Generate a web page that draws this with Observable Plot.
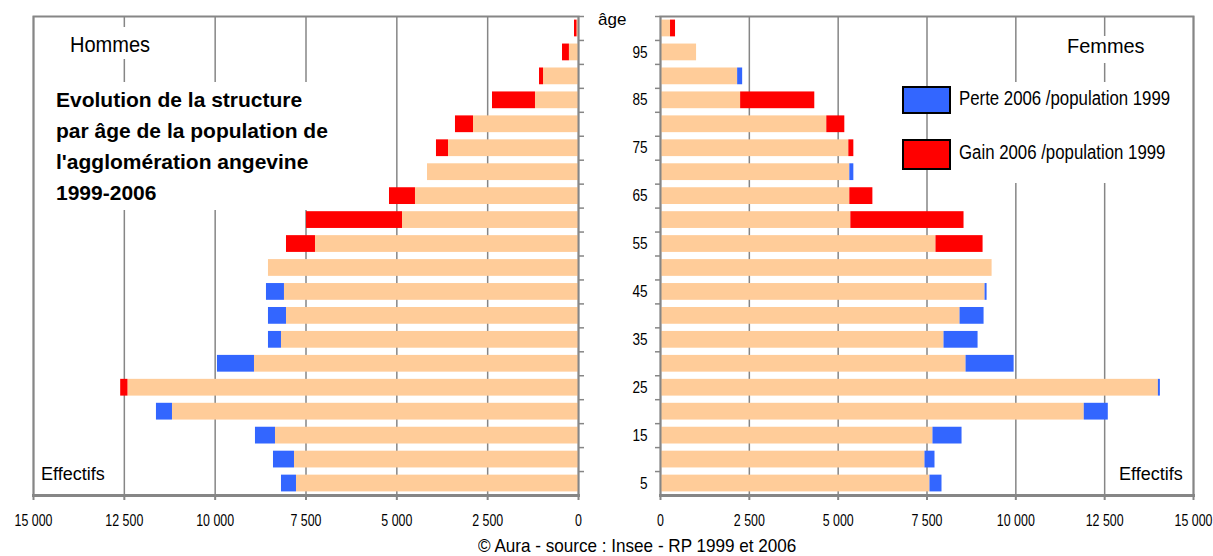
<!DOCTYPE html>
<html>
<head>
<meta charset="utf-8">
<script src="https://cdn.jsdelivr.net/npm/d3@7"></script>
<script src="https://cdn.jsdelivr.net/npm/@observablehq/plot@0.6"></script>
<style>
  html, body { margin: 0; padding: 0; background: #fff; }
  #wrap { position: relative; width: 1213px; height: 530px; }
  #wrap svg { position: absolute; top: 0; }
  .lbl { position: absolute; white-space: nowrap; color: #000; line-height: 1;
         font-family: "Liberation Sans", Arial, sans-serif; transform-origin: 0 50%; }
  .box { position: absolute; background: #fff; }
  .sw { position: absolute; box-sizing: border-box; border: 2px solid #000; }
  #caption { width: 1213px; height: 26px; position: relative; }
</style>
</head>
<body>
<div id="wrap"></div>
<div id="caption"></div>
<script>
// ---- data ----
const ages = [5, 10, 15, 20, 25, 30, 35, 40, 45, 50, 55, 60, 65, 70, 75, 80, 85, 90, 95, 100];
const hommes1999 = [8175, 8395, 8891, 11616, 12400, 9937, 8533, 8533, 8588, 8533, 7239, 4844, 4487, 4156, 3578, 2890, 1184, 963, 250, 40];
const hommes2006 = [7762, 7817, 8340, 11175, 12600, 8918, 8175, 8037, 8093, 8533, 8037, 7487, 5202, 4156, 3909, 3386, 2367, 1073, 440, 110];
const femmes1999 = [7922, 7725, 8486, 12602, 14068, 9952, 8937, 9106, 9191, 9332, 7753, 5357, 5328, 5441, 5300, 4680, 2255, 2312, 1015, 282];
const femmes2006 = [7584, 7443, 7668, 11926, 14012, 8599, 7979, 8430, 9134, 9332, 9078, 8542, 5977, 5328, 5441, 5187, 4342, 2171, 1015, 423];
const ageLabels = [5, 15, 25, 35, 45, 55, 65, 75, 85, 95];
const xTicks = [0, 2500, 5000, 7500, 10000, 12500, 15000];

const peach = "#FFCC99", blue = "#3366FF", red = "#FF0000", grey = "#868686";
const font = '"Liberation Sans", Arial, sans-serif';
const fmt = d3.formatLocale({decimal: ",", thousands: "\u00a0", grouping: [3], currency: ["", ""]}).format(",");

function rows(a1999, a2006) {
  return ages.map((age, i) => ({
    age, v1999: a1999[i], v2006: a2006[i],
    base: Math.min(a1999[i], a2006[i])
  }));
}
const hommes = rows(hommes1999, hommes2006);
const femmes = rows(femmes1999, femmes2006);
const agesDesc = ages.slice().reverse();

const H = 530, mT = 16, mB = 35;
const step = (H - mT - mB) / ages.length;

function panel(data, opts) {
  const left = opts.side === "left";
  return Plot.plot({
    width: opts.width, height: H,
    marginLeft: opts.mL, marginRight: opts.mR, marginTop: mT, marginBottom: mB,
    x: {domain: [0, 15000], reverse: left},
    y: {domain: agesDesc, paddingInner: 0.3, paddingOuter: 0.15, round: false},
    style: {fontFamily: font, fontSize: "17px", color: "#000", background: "transparent", overflow: "visible"},
    marks: [
      Plot.gridX(xTicks, {stroke: grey, strokeOpacity: 1, strokeWidth: 1.5}),
      Plot.barX(data, {y: "age", x1: 0, x2: "base", fill: peach}),
      Plot.barX(data.filter(d => d.v1999 > d.v2006), {y: "age", x1: "v2006", x2: "v1999", fill: blue}),
      Plot.barX(data.filter(d => d.v2006 > d.v1999), {y: "age", x1: "v1999", x2: "v2006", fill: red}),
      Plot.frame({stroke: grey, strokeWidth: 2}),
      Plot.frame({anchor: "bottom", stroke: grey, strokeWidth: 3}),
      Plot.axisX({ticks: xTicks, tickFormat: fmt, tickSize: 5, tickPadding: 13, stroke: grey, strokeWidth: 2, label: null, fontSize: 17}),
      Plot.axisY({anchor: left ? "right" : "left", tickSize: 5, tickFormat: () => "", dy: -step / 2, stroke: grey, strokeWidth: 1.5, label: null}),
      left ? null : Plot.axisY({anchor: "left", ticks: ageLabels, tickSize: 0, tickPadding: 13, label: null, fontSize: 16})
    ]
  });
}

// narrow the tick labels horizontally around their anchor (the reference uses a condensed face)
function condense(svg, selector, s) {
  svg.querySelectorAll(selector).forEach(t => {
    const tr = t.getAttribute("transform") || "";
    t.setAttribute("transform", `${tr} scale(${s},1)`);
  });
}

const wrap = document.getElementById("wrap");
const leftSvg = panel(hommes, {side: "left", width: 600, mL: 33, mR: 22});
leftSvg.style.left = "0px";
wrap.appendChild(leftSvg);
const rightSvg = panel(femmes, {side: "right", width: 613, mL: 60, mR: 20});
rightSvg.style.left = "600px";
wrap.appendChild(rightSvg);
for (const svg of [leftSvg, rightSvg]) {
  condense(svg, 'g[aria-label="x-axis tick label"] text', 0.73);
  condense(svg, 'g[aria-label="y-axis tick label"] text', 0.85);
}

// ---- overlays ----
function add(html) { wrap.insertAdjacentHTML("beforeend", html); }
// white boxes that interrupt the grid behind texts
add('<div class="box" style="left:60px;top:27px;width:100px;height:32px"></div>');
add('<div class="box" style="left:45px;top:82px;width:300px;height:128px"></div>');
add('<div class="box" style="left:1060px;top:36px;width:92px;height:27px"></div>');
add('<div class="box" style="left:952px;top:82px;width:236px;height:101px"></div>');

add('<div class="lbl" style="left:70px;top:34px;font-size:22px;transform:scaleX(0.91)">Hommes</div>');
add('<div class="lbl" style="left:1067px;top:35px;font-size:21px;transform:scaleX(0.95)">Femmes</div>');
add('<div class="lbl" style="left:41px;top:465px;font-size:18px">Effectifs</div>');
add('<div class="lbl" style="left:1119px;top:465px;font-size:18px">Effectifs</div>');
add('<div class="lbl" style="left:598px;top:11px;font-size:17px">âge</div>');

const title = ["Evolution de la structure", "par âge de la population de", "l'agglomération angevine", "1999-2006"];
add('<div class="lbl" style="left:56px;top:84px;font-weight:bold;font-size:21px;line-height:31px;">' + title.join("<br>") + '</div>');

// legend
add('<div class="sw" style="left:902px;top:86px;width:49px;height:28px;background:' + blue + '"></div>');
add('<div class="sw" style="left:902px;top:139px;width:49px;height:31px;background:' + red + '"></div>');
add('<div class="lbl" style="left:959px;top:88px;font-size:20px;transform:scaleX(0.84)">Perte 2006 /population 1999</div>');
add('<div class="lbl" style="left:959px;top:142px;font-size:20px;transform:scaleX(0.84)">Gain 2006 /population 1999</div>');

document.getElementById("caption").innerHTML =
  '<div class="lbl" style="left:478px;top:6px;font-size:19px;transform:scaleX(0.9)">© Aura - source : Insee - RP 1999 et 2006</div>';
</script>
</body>
</html>
